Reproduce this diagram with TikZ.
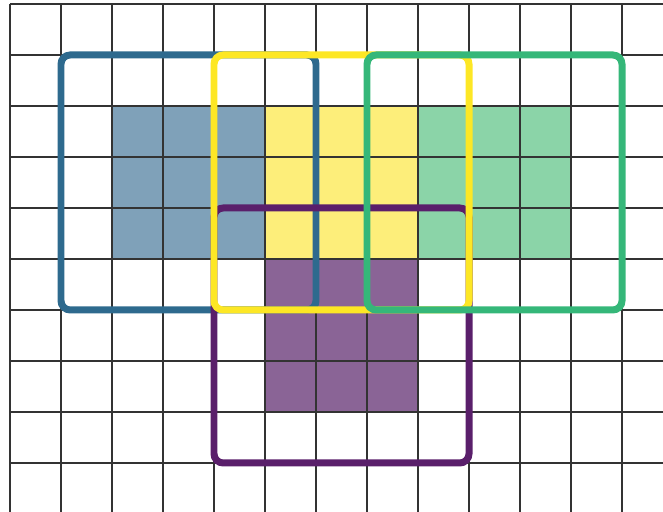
\documentclass[tikz,border=0pt]{standalone}
\usepackage{tikz}
\usepackage[table]{xcolor}
\usetikzlibrary{calc}

\definecolor{vblue}{HTML}{2E6A8E}
\definecolor{vpurple}{HTML}{5A1F6B}
\definecolor{vyellow}{HTML}{FDE725}
\definecolor{vgreen}{HTML}{35B779}
\definecolor{fblue}{HTML}{7FA1B9}
\definecolor{fpurple}{HTML}{8A6496}
\definecolor{fyellow}{HTML}{FDEE7A}
\definecolor{fgreen}{HTML}{8BD4A8}

\tikzset{
    gridline/.style={draw=black!80, line width=0.7pt},
    window/.style={line width=3.9pt, rounded corners=0.18cm},
}

\begin{document}
\begin{tikzpicture}[y=-1cm]
    \useasboundingbox (-0.196, -0.078) rectangle (12.804, 9.961);
    \clip (-0.196, -0.078) rectangle (12.804, 9.961);

    % filled cells
    \fill [fblue] (2, 2) rectangle (5, 5);
    \fill [fyellow] (5, 2) rectangle (8, 5);
    \fill [fgreen] (8, 2) rectangle (11, 5);
    \fill [fpurple] (5, 5) rectangle (8, 8);

    \draw [gridline] (0, 0) grid (14, 11);

    % sliding windows
    \draw [window, vblue] (1, 1) rectangle (6, 6);
    \draw [window, vpurple] (4, 4) rectangle (9, 9);
    \draw [window, vyellow] (4, 1) rectangle (9, 6);
    \draw [window, vgreen] (7, 1) rectangle (12, 6);
\end{tikzpicture}
\end{document}
